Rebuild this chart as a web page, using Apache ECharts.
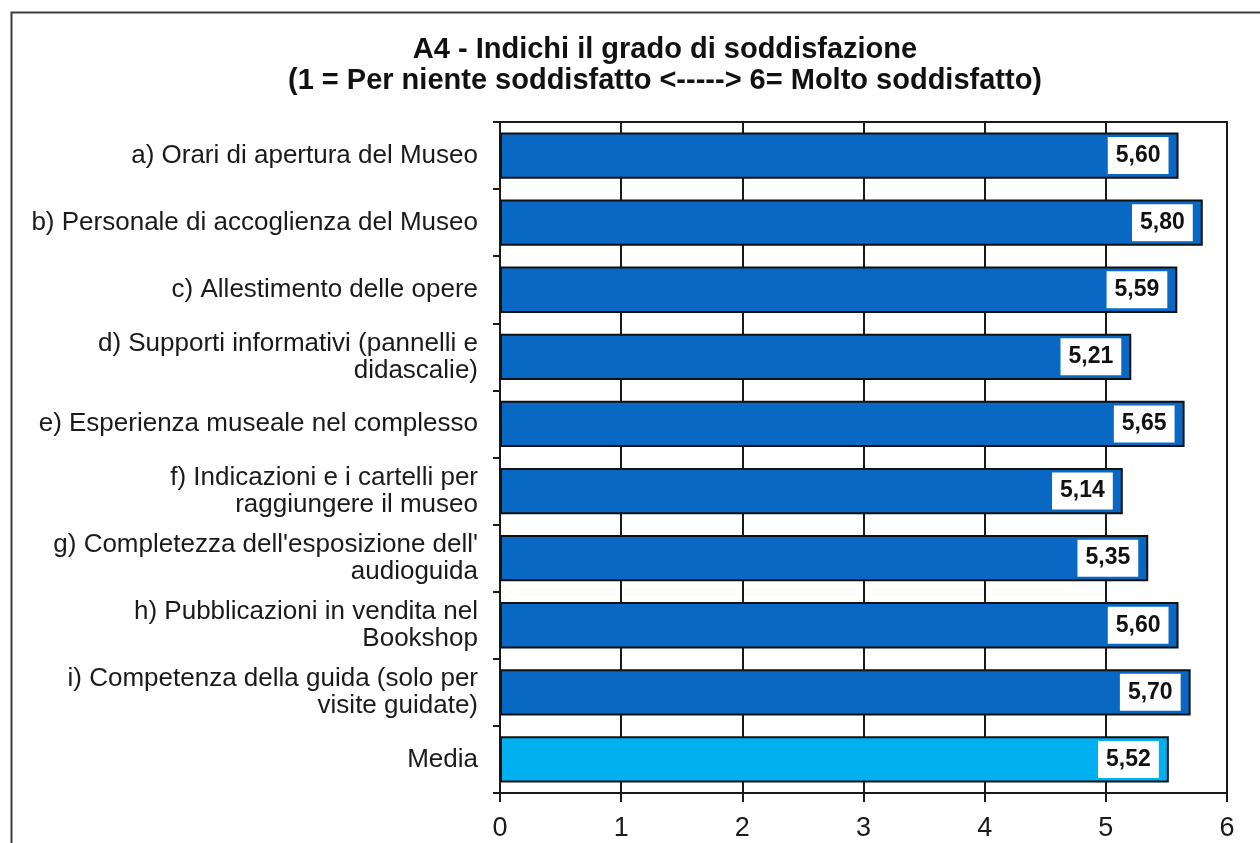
<!DOCTYPE html>
<html>
<head>
<meta charset="utf-8">
<style>
  html, body { margin: 0; padding: 0; background: #fff; }
  #chart { width: 1260px; height: 843px; }
</style>
<script src="https://cdn.jsdelivr.net/npm/echarts@6/dist/echarts.min.js"></script>
</head>
<body>
<div id="chart"></div>
<script>
const categories = [
  'a) Orari di apertura del Museo',
  'b) Personale di accoglienza del Museo',
  'c) Allestimento delle opere',
  'd) Supporti informativi (pannelli e\ndidascalie)',
  'e) Esperienza museale nel complesso',
  'f) Indicazioni e i cartelli per\nraggiungere il museo',
  "g) Completezza dell'esposizione dell'\naudioguida",
  'h) Pubblicazioni in vendita nel\nBookshop',
  'i) Competenza della guida (solo per\nvisite guidate)',
  'Media'
]
const values = [5.60, 5.80, 5.59, 5.21, 5.65, 5.14, 5.35, 5.60, 5.70, 5.52]
const xTicks = [0, 6, 1]  // min, max, interval

const darkBlue = '#0868c4'
const lightBlue = '#00b0f0'
const font = 'Liberation Sans, Arial, sans-serif'

const chart = echarts.init(document.getElementById('chart'))
chart.setOption({
  animation: false,
  backgroundColor: '#fff',
  textStyle: { fontFamily: font, color: '#1a1a1a' },
  // outer frame, only top and left edges fall inside the picture
  graphic: [{
    type: 'rect',
    left: 9, top: 10,
    shape: { width: 1300, height: 900 },
    style: { fill: 'none', stroke: '#3a3a3a', lineWidth: 2 },
    silent: true
  }],
  title: {
    text: 'A4 - Indichi il grado di soddisfazione\n(1 = Per niente soddisfatto <-----> 6= Molto soddisfatto)',
    left: 660, top: 29, textAlign: 'center',
    textStyle: { fontSize: 29, fontWeight: 'bold', color: '#111', lineHeight: 31, fontFamily: font }
  },
  grid: { left: 500, right: 33, top: 122, bottom: 50, show: true, borderColor: '#1a1a1a', borderWidth: 2 },
  xAxis: {
    type: 'value',
    min: xTicks[0], max: xTicks[1], interval: xTicks[2],
    axisLine: { show: true, lineStyle: { color: '#1a1a1a', width: 2 } },
    axisTick: { show: true, length: 9, lineStyle: { color: '#1a1a1a', width: 2 } },
    splitLine: { show: true, lineStyle: { color: '#1a1a1a', width: 2 } },
    axisLabel: { fontSize: 27, color: '#1a1a1a', margin: 22, fontFamily: font }
  },
  yAxis: {
    type: 'category',
    inverse: true,
    data: categories,
    axisLine: { show: true, lineStyle: { color: '#1a1a1a', width: 2 } },
    axisTick: { show: true, length: 7, lineStyle: { color: '#1a1a1a', width: 2 } },
    axisLabel: { fontSize: 26, color: '#1a1a1a', margin: 22, lineHeight: 27, align: 'right', fontFamily: font }
  },
  series: [{
    type: 'bar',
    barCategoryGap: '31%',
    data: values.map((v, i) => ({
      value: v,
      itemStyle: { color: i === values.length - 1 ? lightBlue : darkBlue }
    })),
    itemStyle: { borderColor: '#111', borderWidth: 2 },
    label: {
      show: true,
      position: 'insideRight',
      distance: 10,
      formatter: p => p.value.toFixed(2).replace('.', ','),
      backgroundColor: '#fff',
      padding: [8, 8, 6, 8],
      fontSize: 23,
      fontWeight: 'bold',
      color: '#111',
      fontFamily: font
    }
  }]
})
</script>
</body>
</html>
